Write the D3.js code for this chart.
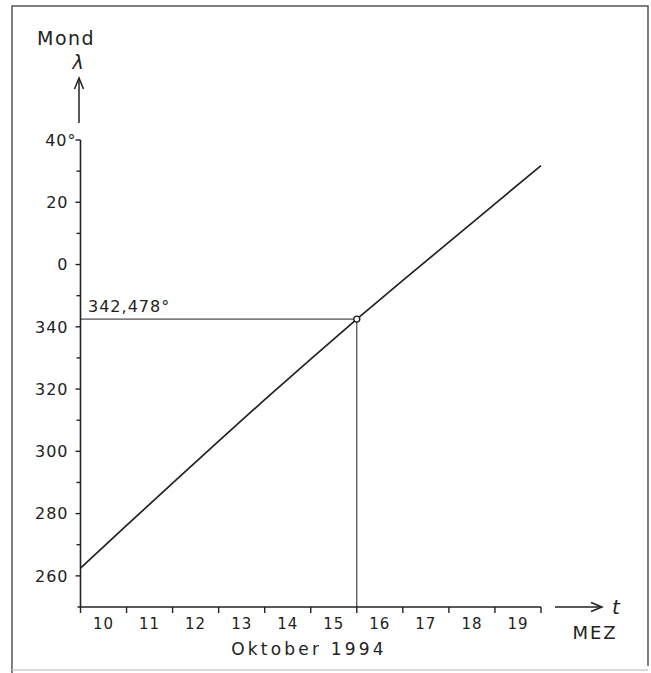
<!DOCTYPE html>
<html><head><meta charset="utf-8">
<script src="https://cdn.jsdelivr.net/npm/d3@7"></script>
<style>
html,body{margin:0;padding:0;background:#fff;}
text{font-family:"DejaVu Sans",sans-serif;fill:#222;}
</style></head>
<body>
<svg id="chart" width="651" height="673"></svg>
<script>
// Data
const days = [10, 11, 12, 13, 14, 15, 16, 17, 18, 19, 20];
const longitude = [262.5, 276.2, 289.8, 303.3, 316.6, 329.6, 342.5, 354.9, 367.2, 379.5, 391.8];
const dayLabels = ["10", "11", "12", "13", "14", "15", "16", "17", "18", "19"];
const yMajor = [260, 280, 300, 320, 340, 360, 380, 400];
const yMajorLabels = ["260", "280", "300", "320", "340", "0", "20", "40°"];
const yMinor = [250, 270, 290, 310, 330, 350, 370, 390];
const markDay = 16;
const markValue = 342.478;
const markLabel = "342,478°";

const svg = d3.select("#chart");
const x = d3.scaleLinear().domain([10, 20]).range([80.5, 541]);
const y = d3.scaleLinear().domain([250, 400]).range([607, 140]);
const ink = "#222";

// frame
svg.append("path").attr("d", "M12,673 L12,6 L648,6 L648,666")
  .attr("fill", "none").attr("stroke", "#555").attr("stroke-width", 1.5);
svg.append("line").attr("x1", 12).attr("x2", 648).attr("y1", 670).attr("y2", 670)
  .attr("stroke", "#ccc").attr("stroke-width", 1.5);

// Y axis
const yAxis = svg.append("g").attr("transform", `translate(${x(10)},0)`);
yAxis.append("line").attr("y1", y(250)).attr("y2", y(400)).attr("stroke", ink).attr("stroke-width", 1.6);
yAxis.selectAll("line.maj").data(yMajor).join("line").attr("class", "maj")
  .attr("x1", -5).attr("x2", 0).attr("y1", d => y(d)).attr("y2", d => y(d)).attr("stroke", ink).attr("stroke-width", 1.4);
yAxis.selectAll("line.min").data(yMinor.filter(d => d > 250)).join("line").attr("class", "min")
  .attr("x1", -4).attr("x2", 0).attr("y1", d => y(d)).attr("y2", d => y(d)).attr("stroke", ink).attr("stroke-width", 1.4);
yAxis.selectAll("text").data(yMajor).join("text")
  .attr("x", d => d === 400 ? -4 : -12).attr("y", d => y(d)).attr("dy", "0.36em")
  .attr("text-anchor", "end").attr("font-size", 16).attr("letter-spacing", 1)
  .text((d, i) => yMajorLabels[i]);

// Y arrow
svg.append("line").attr("x1", 79).attr("x2", 79).attr("y1", 123).attr("y2", 79).attr("stroke", ink).attr("stroke-width", 1.5);
svg.append("path").attr("d", "M74.5,89 L79,78 L83.5,89").attr("fill", "none").attr("stroke", ink).attr("stroke-width", 1.5);
svg.append("text").attr("x", 37).attr("y", 45).attr("font-size", 19).attr("letter-spacing", 1.5).text("Mond");
svg.append("text").attr("x", 78).attr("y", 69).attr("font-size", 19).attr("text-anchor", "middle").attr("font-style", "italic").text("λ");

// X axis
const xAxis = svg.append("g").attr("transform", `translate(0,${y(250)})`);
xAxis.append("line").attr("x1", x(10) - 3).attr("x2", x(20)).attr("stroke", ink).attr("stroke-width", 1.6);
xAxis.selectAll("line.tick").data(days).join("line").attr("class", "tick")
  .attr("x1", d => x(d)).attr("x2", d => x(d)).attr("y1", 0).attr("y2", 6).attr("stroke", ink).attr("stroke-width", 1.4);
xAxis.selectAll("text").data(dayLabels).join("text")
  .attr("x", (d, i) => x(days[i] + 0.5)).attr("y", 22)
  .attr("text-anchor", "middle").attr("font-size", 15).attr("letter-spacing", 1).text(d => d);
svg.append("text").attr("x", 309).attr("y", 655).attr("text-anchor", "middle").attr("font-size", 17)
  .attr("letter-spacing", 3.2).text("Oktober 1994");

// X arrow
svg.append("line").attr("x1", 555).attr("x2", 601).attr("y1", 607).attr("y2", 607).attr("stroke", ink).attr("stroke-width", 1.5);
svg.append("path").attr("d", "M591,602.5 L602,607 L591,611.5").attr("fill", "none").attr("stroke", ink).attr("stroke-width", 1.5);
svg.append("text").attr("x", 612).attr("y", 614).attr("font-size", 20).attr("font-style", "italic").text("t");
svg.append("text").attr("x", 595).attr("y", 639).attr("text-anchor", "middle").attr("font-size", 18)
  .attr("letter-spacing", 2).text("MEZ");

// reference lines
svg.append("line").attr("x1", x(10)).attr("x2", x(markDay)).attr("y1", y(markValue)).attr("y2", y(markValue))
  .attr("stroke", ink).attr("stroke-width", 1);
svg.append("line").attr("x1", x(markDay)).attr("x2", x(markDay)).attr("y1", y(markValue)).attr("y2", y(250))
  .attr("stroke", ink).attr("stroke-width", 1);
svg.append("text").attr("x", 88).attr("y", 312).attr("font-size", 16).attr("letter-spacing", 1).text(markLabel);

// moon longitude line
const line = d3.line().x((d, i) => x(days[i])).y(d => y(d));
svg.append("path").datum(longitude).attr("d", line).attr("fill", "none").attr("stroke", ink).attr("stroke-width", 1.7);

// marker
svg.append("circle").attr("cx", x(markDay)).attr("cy", y(markValue)).attr("r", 3)
  .attr("fill", "#fff").attr("stroke", ink).attr("stroke-width", 1.4);
</script>
</body></html>
